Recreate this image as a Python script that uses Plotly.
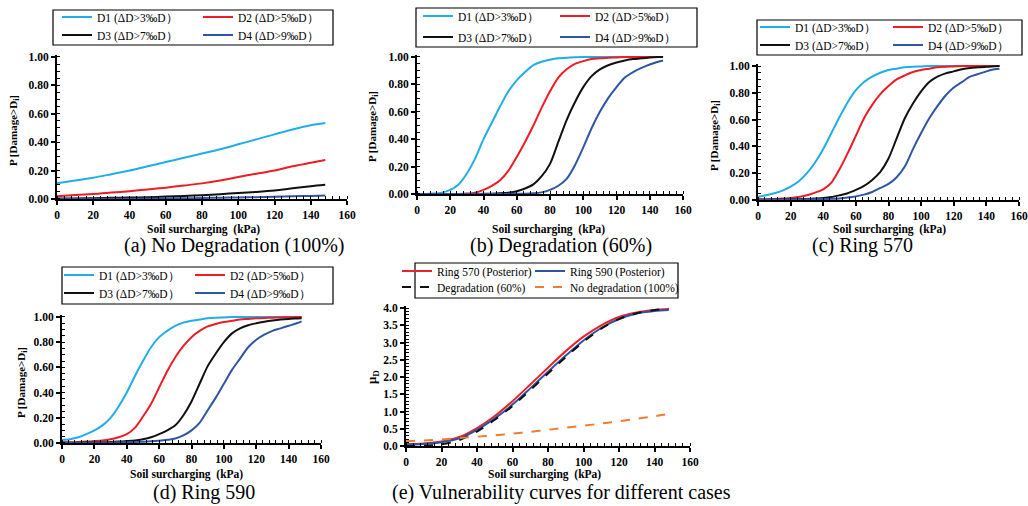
import plotly.graph_objects as go

W, H = 1028, 506

# ---------------- data ----------------
kpa10 = [0, 10, 20, 30, 40, 50, 60, 70, 80, 90, 100, 110, 120, 130, 140, 148]
kpa5 = [0, 5, 10, 15, 20, 25, 30, 35, 40, 45, 50, 55, 60, 65, 70, 75, 80, 85, 90, 95,
        100, 105, 110, 115, 120, 125, 130, 135, 140, 145, 148]

# (a) No degradation (100%)  -- on kpa10
a_D1 = [0.11, 0.13, 0.15, 0.175, 0.20, 0.23, 0.26, 0.29, 0.32, 0.35, 0.385, 0.42, 0.455, 0.49, 0.52, 0.535]
a_D2 = [0.02, 0.028, 0.035, 0.045, 0.055, 0.067, 0.08, 0.095, 0.11, 0.13, 0.155, 0.178, 0.20, 0.23, 0.255, 0.275]
a_D3 = [0.003, 0.004, 0.006, 0.008, 0.010, 0.013, 0.017, 0.022, 0.027, 0.034, 0.042, 0.05, 0.06, 0.075, 0.09, 0.10]
a_D4 = [0.0005, 0.001, 0.001, 0.0015, 0.002, 0.003, 0.004, 0.005, 0.007, 0.009, 0.011, 0.013, 0.016, 0.019, 0.022, 0.025]

# (b) Degradation (60%)  -- on kpa5
b_D1 = [0.0, 0.0, 0.003, 0.01, 0.03, 0.07, 0.15, 0.26, 0.40, 0.52, 0.64, 0.75, 0.83, 0.89, 0.94, 0.965,
        0.98, 0.99, 0.995, 0.998, 1.0, 1.0, 1.0, 1.0, 1.0, 1.0, 1.0, 1.0, 1.0, 1.0, 1.0]
b_D2 = [0.0, 0.0, 0.0, 0.0, 0.0, 0.0, 0.003, 0.01, 0.03, 0.06, 0.10, 0.17, 0.27, 0.38, 0.50, 0.63,
        0.75, 0.85, 0.91, 0.95, 0.97, 0.985, 0.99, 0.995, 0.997, 1.0, 1.0, 1.0, 1.0, 1.0, 1.0]
b_D3 = [0.0, 0.0, 0.0, 0.0, 0.0, 0.0, 0.0, 0.0, 0.001, 0.002, 0.005, 0.01, 0.02, 0.04, 0.07, 0.13,
        0.22, 0.38, 0.54, 0.67, 0.78, 0.86, 0.91, 0.94, 0.96, 0.975, 0.985, 0.99, 0.997, 1.0, 1.0]
b_D4 = [0.0, 0.0, 0.0, 0.0, 0.0, 0.0, 0.0, 0.0, 0.0, 0.0, 0.0, 0.001, 0.001, 0.002, 0.005, 0.012,
        0.03, 0.06, 0.11, 0.21, 0.34, 0.48, 0.60, 0.70, 0.78, 0.85, 0.89, 0.92, 0.945, 0.965, 0.975]

# (c) Ring 570  -- on kpa5
c_D1 = [0.025, 0.035, 0.05, 0.07, 0.10, 0.14, 0.20, 0.28, 0.38, 0.50, 0.62, 0.73, 0.82, 0.88, 0.92, 0.95,
        0.97, 0.98, 0.99, 0.995, 0.997, 1.0, 1.0, 1.0, 1.0, 1.0, 1.0, 1.0, 1.0, 1.0, 1.0]
c_D2 = [0.005, 0.006, 0.008, 0.011, 0.015, 0.023, 0.035, 0.055, 0.08, 0.13, 0.23, 0.35, 0.48, 0.61, 0.71, 0.79,
        0.85, 0.90, 0.93, 0.955, 0.97, 0.98, 0.99, 0.995, 0.997, 1.0, 1.0, 1.0, 1.0, 1.0, 1.0]
c_D3 = [0.002, 0.002, 0.003, 0.004, 0.005, 0.006, 0.008, 0.011, 0.015, 0.022, 0.035, 0.05, 0.075, 0.105, 0.15, 0.21,
        0.31, 0.46, 0.61, 0.72, 0.81, 0.88, 0.92, 0.945, 0.96, 0.975, 0.985, 0.99, 0.995, 0.998, 1.0]
c_D4 = [0.001, 0.001, 0.002, 0.002, 0.003, 0.004, 0.005, 0.006, 0.007, 0.009, 0.012, 0.018, 0.027, 0.04, 0.06, 0.09,
        0.12, 0.17, 0.25, 0.38, 0.50, 0.61, 0.70, 0.78, 0.84, 0.88, 0.92, 0.94, 0.96, 0.975, 0.98]

# (d) Ring 590  -- on kpa5
d_D1 = [0.025, 0.03, 0.045, 0.07, 0.10, 0.14, 0.20, 0.29, 0.40, 0.53, 0.65, 0.76, 0.84, 0.89, 0.93, 0.955,
        0.97, 0.98, 0.99, 0.995, 0.997, 1.0, 1.0, 1.0, 1.0, 1.0, 1.0, 1.0, 1.0, 1.0, 1.0]
d_D2 = [0.005, 0.006, 0.008, 0.011, 0.015, 0.02, 0.03, 0.045, 0.07, 0.12, 0.21, 0.31, 0.44, 0.57, 0.68, 0.77,
        0.84, 0.89, 0.925, 0.945, 0.96, 0.97, 0.98, 0.985, 0.99, 0.993, 0.995, 0.997, 0.998, 1.0, 1.0]
d_D3 = [0.002, 0.002, 0.003, 0.004, 0.005, 0.006, 0.008, 0.011, 0.015, 0.02, 0.03, 0.045, 0.07, 0.10, 0.14, 0.22,
        0.33, 0.47, 0.61, 0.71, 0.80, 0.87, 0.91, 0.935, 0.95, 0.962, 0.972, 0.98, 0.985, 0.988, 0.99]
d_D4 = [0.001, 0.001, 0.002, 0.002, 0.003, 0.003, 0.004, 0.005, 0.006, 0.008, 0.01, 0.013, 0.018, 0.025, 0.035, 0.06,
        0.10, 0.16, 0.26, 0.36, 0.47, 0.58, 0.67, 0.76, 0.82, 0.86, 0.89, 0.91, 0.93, 0.95, 0.965]

# (e) Vulnerability curves  -- on kpa10
e_ring570 = [0.05, 0.07, 0.13, 0.26, 0.52, 0.87, 1.30, 1.78, 2.27, 2.75, 3.17, 3.50, 3.74, 3.87, 3.94, 3.97]
e_ring590 = [0.04, 0.06, 0.11, 0.22, 0.47, 0.80, 1.20, 1.67, 2.15, 2.62, 3.06, 3.42, 3.68, 3.84, 3.91, 3.94]
e_degr60 = [0.0, 0.01, 0.05, 0.17, 0.42, 0.76, 1.16, 1.62, 2.10, 2.58, 3.02, 3.40, 3.68, 3.85, 3.94, 3.98]
e_nodegr = [0.14, 0.16, 0.19, 0.23, 0.27, 0.31, 0.36, 0.41, 0.47, 0.53, 0.59, 0.65, 0.72, 0.79, 0.86, 0.93]

d_names = ["D1 (ΔD>3‰D）", "D2 (ΔD>5‰D）", "D3 (ΔD>7‰D）", "D4 (ΔD>9‰D）"]
e_names = ["Ring 570 (Posterior)", "Ring 590 (Posterior)", "Degradation (60%)", "No degradation (100%)"]
captions = ["(a) No Degradation (100%)", "(b) Degradation (60%)", "(c) Ring 570",
            "(d) Ring 590", "(e) Vulnerability curves for different cases"]
x_ticks = [0, 20, 40, 60, 80, 100, 120, 140, 160]
p_ticks = [0, 0.2, 0.4, 0.6, 0.8, 1.0]
mu_ticks = [0, 0.5, 1.0, 1.5, 2.0, 2.5, 3.0, 3.5, 4.0]

# ---------------- style ----------------
C_D = ["#1FAEE8", "#EE1C24", "#111111", "#2E55A6"]
C_E = ["#E8232B", "#2F52A3", "#111111", "#EE7D31"]
DASH_E = ["solid", "solid", "dash", "dash"]
SERIF = "Liberation Serif, Times New Roman, serif"

def px(x):
    return x / W

def py(y):
    return 1 - y / H

geo = [
    dict(x0=57, x1=347, y0=199, y1=57, top=1.0),
    dict(x0=417, x1=683, y0=194, y1=57, top=1.0),
    dict(x0=758, x1=1019, y0=200, y1=66, top=1.0),
    dict(x0=62, x1=321, y0=443, y1=317, top=1.0),
    dict(x0=406, x1=690, y0=446, y1=308, top=4.0),
]
legend_geo = [
    dict(tx=97, sp=141, rows=(19, 37), box=(53, 10, 333, 45), lw2=None),
    dict(tx=458, sp=137, rows=(18, 39), box=(416, 8, 697, 47), lw2=None),
    dict(tx=795, sp=133, rows=(29, 47), box=(757, 20, 1022, 55), lw2=80),
    dict(tx=99, sp=131, rows=(277, 295), box=(62, 267, 333, 304), lw2=None),
    dict(tx=437, sp=133, rows=(273, 289), box=(415, 263, 678, 298), lw2=120),
]
LEG_DY = -2
caption_pos = [(234, 245), (561, 245), (862, 245), (204, 492), (561, 492)]
xtitle_pos = [(203, 229), (548, 229), (889, 229), (186, 474), (544, 474)]
ytitle_pos = [(14, 131), (373, 127), (715, 136), (22, 383), (372, 377)]

series = [
    (kpa10, [a_D1, a_D2, a_D3, a_D4]),
    (kpa5, [b_D1, b_D2, b_D3, b_D4]),
    (kpa5, [c_D1, c_D2, c_D3, c_D4]),
    (kpa5, [d_D1, d_D2, d_D3, d_D4]),
    (kpa10, [e_ring570, e_ring590, e_degr60, e_nodegr]),
]

fig = go.Figure()
layout = {}
annotations = []
shapes = []

for i in range(5):
    g = geo[i]
    k = "" if i == 0 else str(i + 1)
    pad = 1.012
    rtop = g["top"] * pad
    ytop_px = g["y0"] - (g["y0"] - g["y1"]) * pad
    is_e = (i == 4)

    layout["xaxis" + k] = dict(
        domain=[px(g["x0"]), px(g["x1"])], range=[0, 160], anchor="y" + k,
        tickvals=x_ticks, ticktext=[str(v) for v in x_ticks],
        showline=True, linecolor="black", linewidth=2, showgrid=False, zeroline=False,
        ticks="outside", ticklen=4, tickwidth=1.5, tickcolor="black",
        minor=dict(dtick=4, tick0=0, ticks="inside", ticklen=3, tickwidth=1, tickcolor="black", showgrid=False),
        tickfont=dict(family=SERIF, size=11.5, color="black", weight="bold"),
        fixedrange=True,
    )
    yt = mu_ticks if is_e else p_ticks
    layout["yaxis" + k] = dict(
        domain=[py(g["y0"]), py(ytop_px)], range=[0, rtop], anchor="x" + k,
        tickvals=yt, ticktext=[("%.1f" % v) if is_e else ("%.2f" % v) for v in yt],
        showline=True, linecolor="black", linewidth=2, showgrid=False, zeroline=False,
        ticks="outside", ticklen=4, tickwidth=1.5, tickcolor="black",
        minor=dict(dtick=0.1 if is_e else 0.05, tick0=0, ticks="inside", ticklen=3,
                   tickwidth=1, tickcolor="black", showgrid=False),
        tickfont=dict(family=SERIF, size=11.5, color="black", weight="bold"),
        fixedrange=True,
    )

    names = e_names if is_e else d_names
    colors = C_E if is_e else C_D
    lg = legend_geo[i]
    xs, ys = series[i]
    for j in range(4):
        row = j // 2
        n = 2 * i + row
        lname = "legend" + ("" if n == 0 else str(n + 1))
        extra = {}
        if j % 2 == 1 and lg["lw2"]:
            extra["legendwidth"] = lg["lw2"]
        fig.add_trace(go.Scatter(
            x=xs, y=ys[j], mode="lines", name=names[j],
            line=dict(color=colors[j], width=2, dash=DASH_E[j] if is_e else "solid",
                      shape="spline", smoothing=0.8),
            xaxis="x" + k, yaxis="y" + k, legend=lname, showlegend=True, **extra,
        ))
    for row in range(2):
        n = 2 * i + row
        lname = "legend" + ("" if n == 0 else str(n + 1))
        layout[lname] = dict(
            orientation="h", x=px(lg["tx"] - 40), xanchor="left",
            y=py(lg["rows"][row] + LEG_DY), yanchor="middle",
            entrywidth=lg["sp"] - 45, entrywidthmode="pixels",
            bgcolor="rgba(0,0,0,0)", borderwidth=0, itemwidth=30,
            font=dict(family=SERIF, size=11.5, color="black"),
            traceorder="normal",
        )
    bx = lg["box"]
    shapes.append(dict(type="rect", xref="paper", yref="paper",
                       x0=px(bx[0]), x1=px(bx[2]), y0=py(bx[3]), y1=py(bx[1]),
                       line=dict(color="black", width=1.2), fillcolor="rgba(0,0,0,0)"))

    cx, cy = caption_pos[i]
    annotations.append(dict(text=captions[i], x=px(cx), y=py(cy), xref="paper", yref="paper",
                            showarrow=False, xanchor="center", yanchor="middle",
                            font=dict(family=SERIF, size=20, color="black")))
    tx, ty = xtitle_pos[i]
    annotations.append(dict(text="<b>Soil surcharging\u00a0 (kPa)</b>", x=px(tx), y=py(ty),
                            xref="paper", yref="paper", showarrow=False,
                            xanchor="center", yanchor="middle",
                            font=dict(family=SERIF, size=11.5, color="black")))
    ux, uy = ytitle_pos[i]
    ytxt = "<b>μ<sub>D</sub></b>" if is_e else "<b>P [Damage>D<sub>i</sub>]</b>"
    annotations.append(dict(text=ytxt, x=px(ux), y=py(uy), xref="paper", yref="paper",
                            showarrow=False, xanchor="center", yanchor="middle", textangle=-90,
                            font=dict(family=SERIF, size=13 if is_e else 11, color="black")))

fig.update_layout(
    width=W, height=H, margin=dict(l=0, r=0, t=0, b=0, autoexpand=False),
    paper_bgcolor="white", plot_bgcolor="white",
    showlegend=True, annotations=annotations, shapes=shapes,
    **layout,
)

fig.write_html("out.html", config={"displayModeBar": False},
               post_script="document.body.style.margin='0px';")
